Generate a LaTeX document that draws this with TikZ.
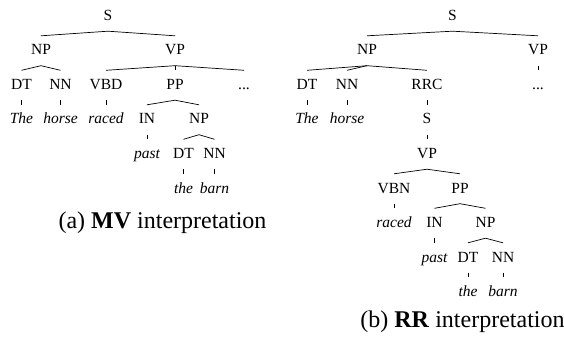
\documentclass[tikz,border=0pt]{standalone}
\usepackage{fontspec}
\setmainfont{Liberation Serif}
\usepackage{tikz}

\newcommand{\treefont}{\fontsize{15.5}{18}\selectfont}
\newcommand{\capfont}{\fontsize{24}{28}\selectfont}

\begin{document}
\begin{tikzpicture}[x=1pt,y=1pt,
	lbl/.style={font=\treefont, inner xsep=0pt, inner ysep=7pt, text height=12pt, text depth=3.5pt},
	leaf/.style={font=\treefont\itshape},
	caption/.style={font=\capfont, inner sep=0pt},
	every child node/.style={lbl},
	level distance=34.5pt,
	parent anchor=south, child anchor=north,
	edge from parent/.style={draw, line width=0.7pt}]
\useasboundingbox (0,0) rectangle (564,-339);

% (a) main verb reading
\node[lbl] (aS) at (108,-16.25) {S}
child[sibling distance=134pt] { node (aNP) {NP}
	child[sibling distance=39pt] { node (aDT) {DT}
		child { node[leaf] (aThe) {The} }
	}
	child[sibling distance=39pt] { node (aNN) {NN}
		child { node[leaf] (aHorse) {horse} }
	}
}
child[sibling distance=134pt] { node (aVP) {VP}
	child[sibling distance=69pt] { node (aVBD) {VBD}
		child { node[leaf] (aRaced) {raced} }
	}
	child[sibling distance=69pt] { node (aPP) {PP}
		child[sibling distance=52pt, xshift=-2pt] { node (aIN) {IN}
			child { node[leaf] (aPast) {past} }
		}
		child[sibling distance=52pt, xshift=-2pt] { node (aNP2) {NP}
			child[sibling distance=31pt] { node (aDT2) {DT}
				child { node[leaf] (aThe2) {the} }
			}
			child[sibling distance=31pt] { node (aNN2) {NN}
				child { node[leaf] (aBarn) {barn} }
			}
		}
	}
	child[sibling distance=69pt] { node (aDots) {...} }
};

% (b) reduced relative reading
\node[lbl] (bS) at (452.5,-16.25) {S}
child[sibling distance=171pt] { node (bNP) {NP}
	child[sibling distance=60pt] { node (bDT) {DT}
		child { node[leaf] (bThe) {The} }
	}
	child[sibling distance=60pt, xshift=-20pt] { node (bNN) {NN}
		child { node[leaf] (bHorse) {horse} }
	}
	child[sibling distance=60pt] { node (bRRC) {RRC}
		child { node (bS2) {S}
			child { node (bVP2) {VP}
				child[sibling distance=66pt] { node (bVBN) {VBN}
					child { node[leaf] (bRaced) {raced} }
				}
				child[sibling distance=66pt] { node (bPP) {PP}
					child[sibling distance=51pt] { node (bIN) {IN}
						child { node[leaf] (bPast) {past} }
					}
					child[sibling distance=51pt] { node (bNP2) {NP}
						child[sibling distance=35pt] { node (bDT2) {DT}
							child { node[leaf] (bThe2) {the} }
						}
						child[sibling distance=35pt] { node (bNN2) {NN}
							child { node[leaf] (bBarn) {barn} }
						}
					}
				}
			}
		}
	}
}
child[sibling distance=171pt] { node (bVP) {VP}
	child { node (bDots) {...} }
};

% captions
\node[caption, anchor=base] (capA) at (162.5,-228) {(a) \textbf{MV} interpretation};
\node[caption, anchor=base] (capB) at (462.5,-327.5) {(b) \textbf{RR} interpretation};
\end{tikzpicture}
\end{document}
